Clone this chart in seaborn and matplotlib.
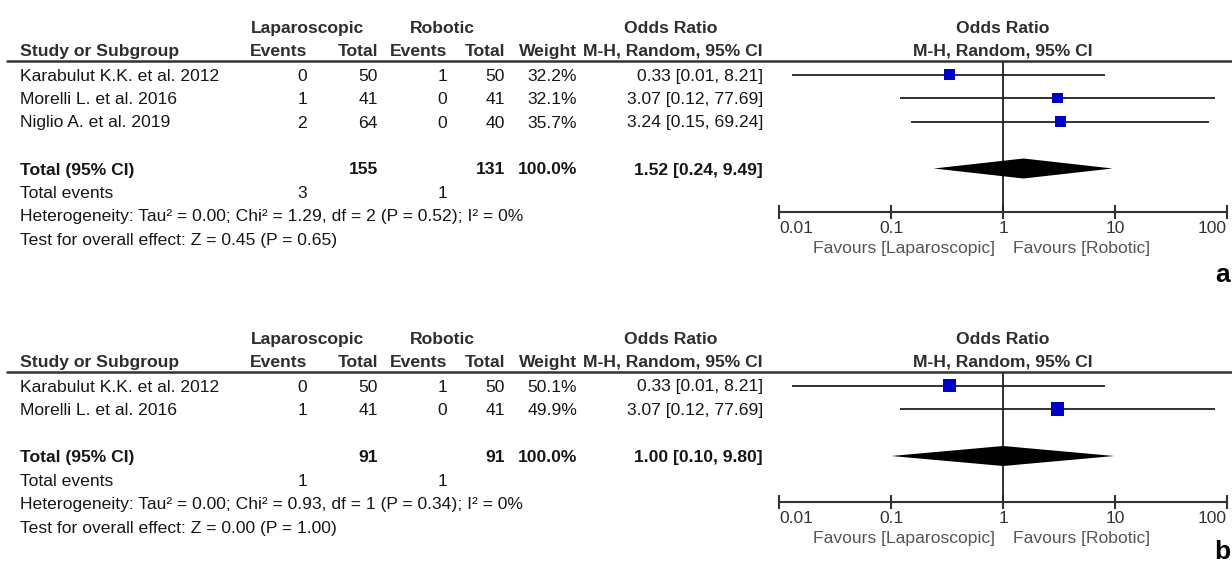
import numpy as np
import pandas as pd
import matplotlib
matplotlib.use('Agg')
import matplotlib.pyplot as plt
import seaborn as sns
from matplotlib import transforms
from matplotlib.lines import Line2D
from matplotlib.ticker import NullLocator

# ---- data, panel a (3 studies) ----
studies_a = ['Karabulut K.K. et al. 2012', 'Morelli L. et al. 2016', 'Niglio A. et al. 2019']
lap_events_a = [0, 1, 2]
lap_total_a = [50, 41, 64]
rob_events_a = [1, 0, 0]
rob_total_a = [50, 41, 40]
weight_a = [32.2, 32.1, 35.7]
or_a = [0.33, 3.07, 3.24]
lo_a = [0.013, 0.12, 0.15]
hi_a = [8.21, 77.69, 69.24]
pooled_a = [1.52, 0.24, 9.49]
het_a = 'Heterogeneity: Tau\u00b2 = 0.00; Chi\u00b2 = 1.29, df = 2 (P = 0.52); I\u00b2 = 0%'
test_a = 'Test for overall effect: Z = 0.45 (P = 0.65)'

# ---- data, panel b (2 studies) ----
studies_b = ['Karabulut K.K. et al. 2012', 'Morelli L. et al. 2016']
lap_events_b = [0, 1]
lap_total_b = [50, 41]
rob_events_b = [1, 0]
rob_total_b = [50, 41]
weight_b = [50.1, 49.9]
or_b = [0.33, 3.07]
lo_b = [0.013, 0.12]
hi_b = [8.21, 77.69]
pooled_b = [1.00, 0.10, 9.80]
het_b = 'Heterogeneity: Tau\u00b2 = 0.00; Chi\u00b2 = 0.93, df = 1 (P = 0.34); I\u00b2 = 0%'
test_b = 'Test for overall effect: Z = 0.00 (P = 1.00)'

sns.set_theme(style='white')
plt.rcParams['font.family'] = ['Liberation Sans', 'DejaVu Sans']

W, H = 1232, 565
ROW = 23.5          # row height in pixels
FS = 12.6
TXT = '#161616'
BASE = 6.0 / ROW    # baseline offset from row centre

fig = plt.figure(figsize=(W / 100, H / 100), dpi=100)


def fx(px):
    return px / W


def panel(studies, lap_ev, lap_tot, rob_ev, rob_tot, weight, est, lo, hi, pooled,
          het, test, top_px, axis_px, label):
    n = len(studies)
    rows = np.arange(n)
    total_row = n + 1
    row0_px = top_px + 13.5
    ytop = -13.5 / ROW
    ybot = (axis_px - row0_px) / ROW

    ax = fig.add_axes([fx(779.3), 1 - axis_px / H, fx(1227) - fx(779.3), (axis_px - top_px) / H])
    ax.set_facecolor('none')

    # forest marks
    ax.hlines(rows, lo, hi, color='#222222', lw=1.3, zorder=2)
    df = pd.DataFrame({'or': est, 'row': rows, 'weight': weight})
    sns.scatterplot(data=df, x='or', y='row', size='weight', sizes=(0, 177), size_norm=(0, 100),
                    marker='s', color='#0000c8', linewidth=0, legend=False, ax=ax, zorder=3)
    h = 10 / ROW
    ax.fill([pooled[1], pooled[0], pooled[2], pooled[0]],
            [total_row, total_row - h, total_row, total_row + h], color='black', lw=0, zorder=3)
    ax.axvline(1, color='#222222', lw=1.3, zorder=1)

    ax.set_xscale('log')
    ax.set_xlim(0.01, 100)
    ax.set_ylim(ybot, ytop)
    ax.set_xlabel('')
    ax.set_ylabel('')
    ax.set_yticks([])
    ax.set_xticks([0.01, 0.1, 1, 10, 100])
    ax.set_xticklabels(['0.01', '0.1', '1', '10', '100'])
    ax.xaxis.set_minor_locator(NullLocator())
    for s in ['top', 'left', 'right']:
        ax.spines[s].set_visible(False)
    ax.spines['bottom'].set_linewidth(1.5)
    ax.spines['bottom'].set_color('#333333')
    ax.tick_params(axis='x', direction='inout', length=10, width=1.5, color='#333333',
                   pad=1.5, labelsize=FS, labelcolor='#333333', bottom=True)
    tl = ax.get_xticklabels()
    tl[0].set_ha('left')
    tl[-1].set_ha('right')

    ax.annotate('Favours [Laparoscopic]', xy=(1, 0), xycoords=ax.get_xaxis_transform(),
                xytext=(-8, -36), textcoords='offset pixels', ha='right', va='center',
                fontsize=FS, color='#555555')
    ax.annotate('Favours [Robotic]', xy=(1, 0), xycoords=ax.get_xaxis_transform(),
                xytext=(10, -36), textcoords='offset pixels', ha='left', va='center',
                fontsize=FS, color='#555555')

    # right-hand header
    for r, s in [(-2.02, 'Odds Ratio'), (-1.06, 'M-H, Random, 95% CI')]:
        ax.text(1, r + BASE, s, ha='center', va='baseline', fontsize=FS, fontweight='bold',
                color='#2e2e2e', clip_on=False)

    tr = transforms.blended_transform_factory(fig.transFigure, ax.transData)

    def t(xpx, r, s, ha='right', bold=False, color=TXT):
        fig.text(fx(xpx), r + BASE, s, transform=tr, ha=ha, va='baseline', fontsize=FS,
                 fontweight='bold' if bold else 'normal', color=color)

    hc = '#2e2e2e'
    t(307.5, -2.02, 'Laparoscopic', ha='center', bold=True, color=hc)
    t(442, -2.02, 'Robotic', ha='center', bold=True, color=hc)
    t(670.5, -2.02, 'Odds Ratio', ha='center', bold=True, color=hc)
    t(20, -1.06, 'Study or Subgroup', ha='left', bold=True, color=hc)
    cols = [307, 378, 447, 505, 577, 763]
    for x, s in zip(cols, ['Events', 'Total', 'Events', 'Total', 'Weight', 'M-H, Random, 95% CI']):
        t(x, -1.06, s, bold=True, color=hc)

    fig.add_artist(Line2D([fx(7), 1], [ytop, ytop], transform=tr, color='#333333', lw=1.8))

    for i in range(n):
        t(20, i, studies[i], ha='left')
        vals = [str(lap_ev[i]), str(lap_tot[i]), str(rob_ev[i]), str(rob_tot[i]),
                f'{weight[i]:.1f}%', f'{est[i]:.2f} [{lo[i]:.2f}, {hi[i]:.2f}]']
        for x, s in zip(cols, vals):
            t(x, i, s)

    t(20, total_row, 'Total (95% CI)', ha='left', bold=True)
    tot_vals = [None, str(sum(lap_tot)), None, str(sum(rob_tot)), f'{sum(weight):.1f}%',
                f'{pooled[0]:.2f} [{pooled[1]:.2f}, {pooled[2]:.2f}]']
    for x, s in zip(cols, tot_vals):
        if s is not None:
            t(x, total_row, s, bold=True)
    t(20, total_row + 1, 'Total events', ha='left')
    t(cols[0], total_row + 1, str(sum(lap_ev)))
    t(cols[2], total_row + 1, str(sum(rob_ev)))
    t(20, total_row + 2, het, ha='left')
    t(20, total_row + 3, test, ha='left')

    # panel letter: baseline ~70 px below the axis line, kept inside the figure
    if axis_px + 76 <= H:
        fig.text(fx(1230), 1 - (axis_px + 70) / H, label, ha='right', va='baseline',
                 fontsize=19, fontweight='bold', color='black')
    else:
        fig.text(fx(1230), 1 - (H - 1) / H, label, ha='right', va='bottom',
                 fontsize=19, fontweight='bold', color='black')
    return ax


panel(studies_a, lap_events_a, lap_total_a, rob_events_a, rob_total_a, weight_a,
      or_a, lo_a, hi_a, pooled_a, het_a, test_a, top_px=61, axis_px=212, label='a')
panel(studies_b, lap_events_b, lap_total_b, rob_events_b, rob_total_b, weight_b,
      or_b, lo_b, hi_b, pooled_b, het_b, test_b, top_px=372, axis_px=502, label='b')

fig.savefig('out.png', dpi=100, facecolor='white')
